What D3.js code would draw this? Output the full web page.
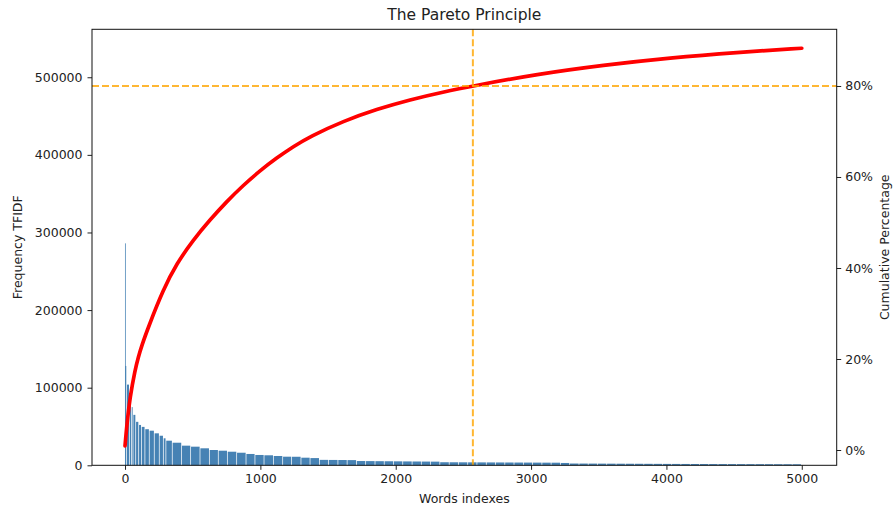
<!DOCTYPE html>
<html>
<head>
<meta charset="utf-8">
<script src="https://cdn.jsdelivr.net/npm/d3@7"></script>
<style>
  body { margin: 0; background: #fff; }
  text { font-family: "DejaVu Sans", sans-serif; fill: #222; }
</style>
</head>
<body>
<div id="chart"></div>
<script>
// word index where each run of bars starts, and the TFIDF frequency of that run
var barStart = [0, 1, 15, 35, 50, 62, 82, 104, 124, 150, 182, 219, 256, 286, 305, 352,
  421, 488, 557, 626, 692, 759, 828, 897, 963, 1030, 1099, 1168, 1234, 1303, 1370,
  1439, 1507, 1576, 1644, 1713, 1781, 1850, 1918, 1987, 2055, 2124, 2192, 2261,
  2329, 2398, 2466, 2535, 2603, 2672, 2740, 2809, 2877, 2946, 3014, 3083, 3151,
  3220, 3288, 3357, 3425, 3494, 3562, 3631, 3699, 3768, 3836, 3905, 3973, 4042,
  4110, 4179, 4247, 4316, 4384, 4453, 4521, 4590, 4658, 4727, 4795, 4864, 4932];
var barFreq = [286000, 128000, 104000, 88000, 75000, 65000, 56000, 52000, 49500, 46500,
  44600, 41200, 38100, 34800, 31700, 29100, 25300, 24000, 21900, 19700, 18800, 17500,
  16200, 14600, 13300, 12900, 12000, 11100, 11000, 9800, 9300,
  7000, 6900, 6800, 6700, 5500, 5400, 5300, 5200, 5100, 5000, 4900, 4800, 4700,
  3950, 3900, 3850, 3800, 3750, 3700, 3650, 3600, 3550, 3500, 3450, 3400, 3350,
  3000, 2300, 2250, 2200, 2150, 2100, 2050, 2000, 1950, 1900, 1850, 1800, 1760,
  1720, 1680, 1640, 1600, 1570, 1540, 1510, 1480, 1450, 1420, 1390, 1360, 1330];
var nWords = 5000;

// cumulative percentage
var cumIdx = [0, 12, 37, 74, 98, 123, 172, 283, 382, 505, 628, 751, 874, 998, 1121,
  1244, 1367, 1614, 1860, 2106, 2353, 2570, 3043, 3535, 4028, 4521, 5000];
var cumPct = [0.9, 5.1, 11.7, 17.6, 20.4, 22.9, 27.0, 35.3, 41.0, 46.2, 50.6, 54.6, 58.2,
  61.4, 64.2, 66.7, 68.9, 72.3, 74.9, 77.0, 78.7, 80.0, 82.6, 84.6, 86.2, 87.4, 88.3];

var cutIdx = 2570;
var cutPct = 80;

var leftTicks = [0, 100000, 200000, 300000, 400000, 500000];
var rightTicks = [0, 20, 40, 60, 80];
var xTicks = [0, 1000, 2000, 3000, 4000, 5000];

var svgWidth = 893;
var svgHeight = 508;
var plot = { left: 92, right: 836.7, top: 29.3, bottom: 465.3 };

var svg = d3.select("#chart")
  .append("svg")
  .attr("width", svgWidth)
  .attr("height", svgHeight);

var x = d3.scaleLinear().domain([-244, 5258]).range([plot.left, plot.right]);
var yLeft = d3.scaleLinear().domain([0, 561800]).range([plot.bottom, plot.top]);
var yRight = d3.scaleLinear().domain([-3.36, 92.46]).range([plot.bottom, plot.top]);

svg.append("clipPath").attr("id", "clip")
  .append("rect")
  .attr("x", plot.left).attr("y", plot.top)
  .attr("width", plot.right - plot.left).attr("height", plot.bottom - plot.top);

// bars, one rect per run, thin white seam between runs
var bars = barStart.map(function(s, i) {
  return { start: s, end: i < barStart.length - 1 ? barStart[i + 1] : nWords, freq: barFreq[i] };
});

svg.append("g")
  .selectAll("rect")
  .data(bars)
  .enter()
  .append("rect")
  .attr("x", d => x(d.start - 0.4))
  .attr("width", function(d) {
    var w = x(d.end - 0.6) - x(d.start - 0.4);
    return d.end - d.start > 1 ? Math.max(w - 0.7, 0.5) : 1;
  })
  .attr("y", d => yLeft(d.freq))
  .attr("height", d => yLeft(0) - yLeft(d.freq))
  .attr("fill", "steelblue")
  .attr("opacity", d => d.end - d.start > 1 ? 1 : 0.75);

// cumulative curve
var line = d3.line()
  .x(d => x(d[0]))
  .y(d => yRight(d[1]))
  .curve(d3.curveBasis);

svg.append("path")
  .datum(cumIdx.map((v, i) => [v, cumPct[i]]))
  .attr("d", line)
  .attr("fill", "none")
  .attr("stroke", "red")
  .attr("stroke-width", 3.7)
  .attr("stroke-linecap", "round")
  .attr("clip-path", "url(#clip)");

// 80% cut lines
svg.append("line")
  .attr("x1", plot.left).attr("x2", plot.right)
  .attr("y1", yRight(cutPct)).attr("y2", yRight(cutPct))
  .attr("stroke", "orange").attr("stroke-opacity", 0.8)
  .attr("stroke-width", 2).attr("stroke-dasharray", "7,3");

svg.append("line")
  .attr("x1", x(cutIdx)).attr("x2", x(cutIdx))
  .attr("y1", plot.top).attr("y2", plot.bottom)
  .attr("stroke", "orange").attr("stroke-opacity", 0.8)
  .attr("stroke-width", 2).attr("stroke-dasharray", "7,3");

// axes
function styleAxis(g) {
  g.select(".domain").remove();
  g.selectAll(".tick line").attr("stroke", "#222");
  g.selectAll(".tick text").style("font-size", "12.5px").attr("fill", "#222");
}

svg.append("g")
  .attr("transform", `translate(0, ${plot.bottom})`)
  .call(d3.axisBottom(x).tickValues(xTicks).tickSize(4.5).tickPadding(4).tickFormat(d3.format("d")))
  .call(styleAxis);

svg.append("g")
  .attr("transform", `translate(${plot.left}, 0)`)
  .call(d3.axisLeft(yLeft).tickValues(leftTicks).tickSize(4.5).tickPadding(5).tickFormat(d3.format("d")))
  .call(styleAxis);

svg.append("g")
  .attr("transform", `translate(${plot.right}, 0)`)
  .call(d3.axisRight(yRight).tickValues(rightTicks).tickSize(4.5).tickPadding(4).tickFormat(d => d + "%"))
  .call(styleAxis);

svg.append("rect")
  .attr("x", plot.left).attr("y", plot.top)
  .attr("width", plot.right - plot.left).attr("height", plot.bottom - plot.top)
  .attr("fill", "none")
  .attr("stroke", "#111")
  .attr("stroke-width", 1);

// labels
var midX = (plot.left + plot.right) / 2;
var midY = (plot.top + plot.bottom) / 2;

svg.append("text")
  .attr("x", midX).attr("y", 20)
  .attr("text-anchor", "middle")
  .style("font-size", "15.5px")
  .text("The Pareto Principle");

svg.append("text")
  .attr("x", midX).attr("y", 503)
  .attr("text-anchor", "middle")
  .style("font-size", "12.5px")
  .text("Words indexes");

svg.append("text")
  .attr("transform", `translate(22, ${midY}) rotate(-90)`)
  .attr("text-anchor", "middle")
  .style("font-size", "12.5px")
  .text("Frequency TFIDF");

svg.append("text")
  .attr("transform", `translate(889, ${midY}) rotate(-90)`)
  .attr("text-anchor", "middle")
  .style("font-size", "12.5px")
  .text("Cumulative Percentage");
</script>
</body>
</html>
